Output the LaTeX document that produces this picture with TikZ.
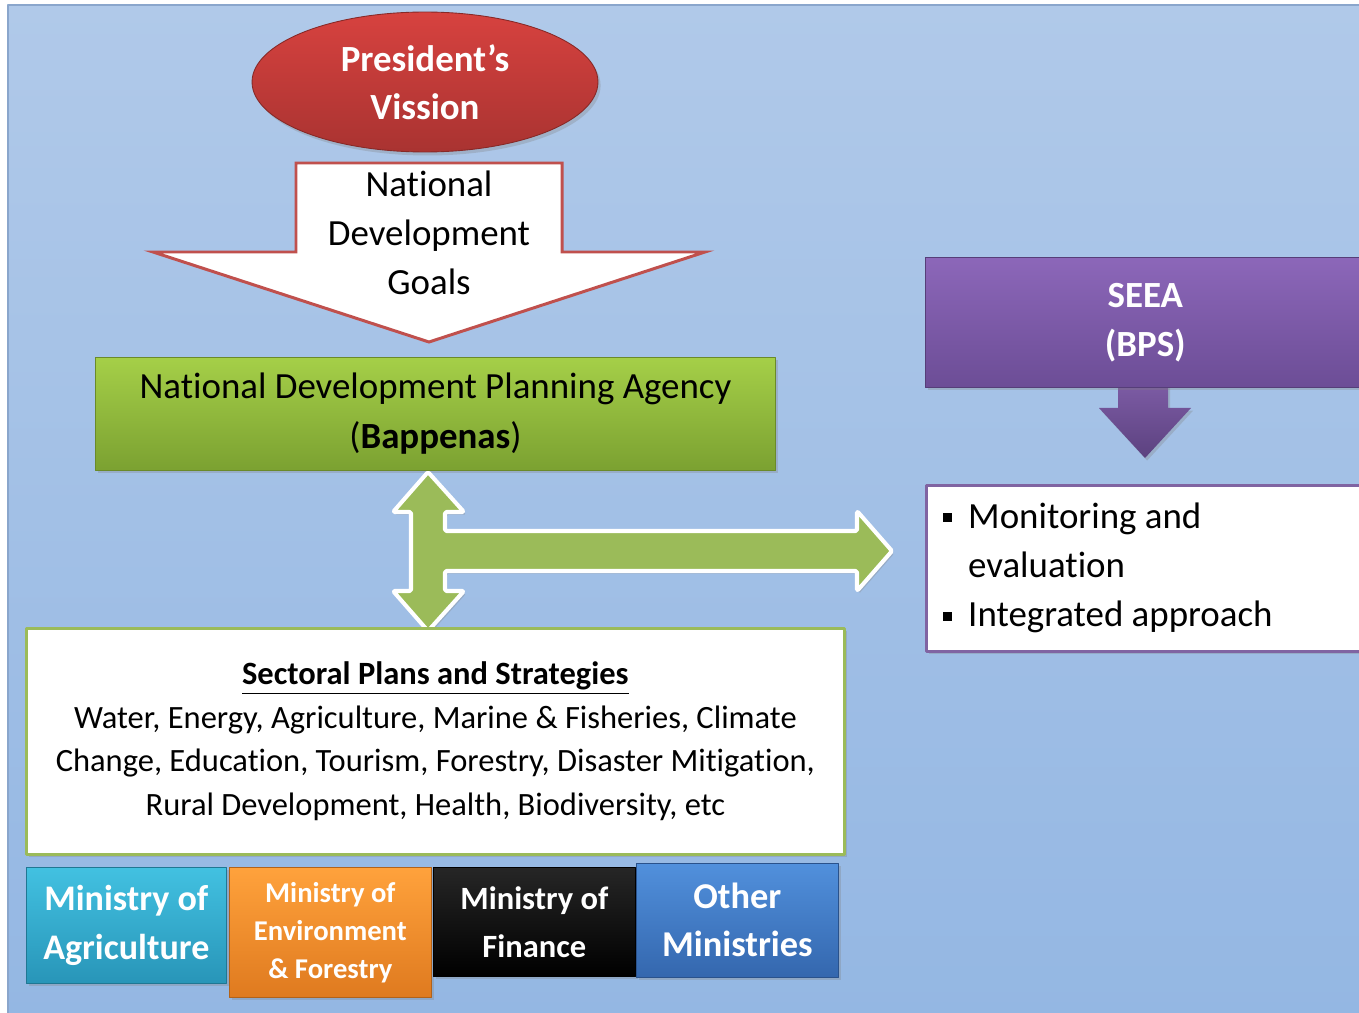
\documentclass[tikz,border=0pt]{standalone}
\usepackage{fontspec}
\setmainfont{Carlito}[Ligatures={NoCommon}]
\usepackage{tikz}
\usetikzlibrary{shapes.geometric, shadows, calc}
\definecolor{bgTop}{HTML}{B0C9E9}
\definecolor{bgBot}{HTML}{94B7E3}
\definecolor{bgEdge}{HTML}{8AA6CC}
\definecolor{visRed}{HTML}{D7423F}
\definecolor{visRedDk}{HTML}{A93331}
\definecolor{goalRed}{HTML}{C0504D}
\definecolor{bapGreen}{HTML}{A5CF48}
\definecolor{bapGreenDk}{HTML}{7BA131}
\definecolor{bapEdge}{HTML}{6A8A2A}
\definecolor{linkGreen}{HTML}{9BBB59}
\definecolor{seeaPurple}{HTML}{8C67B9}
\definecolor{seeaPurpleDk}{HTML}{6C4D96}
\definecolor{monPurple}{HTML}{8064A2}
\definecolor{agriCyan}{HTML}{42C1E1}
\definecolor{agriCyanDk}{HTML}{2895B8}
\definecolor{envOrange}{HTML}{FFA23C}
\definecolor{envOrangeDk}{HTML}{DF7A1F}
\definecolor{finBlack}{HTML}{262626}
\definecolor{othBlue}{HTML}{5190DC}
\definecolor{othBlueDk}{HTML}{3467AE}
\newcommand{\sqbul}{\makebox[0.5cm][l]{\rule[0.12cm]{0.18cm}{0.18cm}}}
\tikzset{
  plate/.style={rectangle, inner sep=0pt, align=center, anchor=north west,
    drop shadow={opacity=0.3, shadow xshift=1.5pt, shadow yshift=-1.5pt}},
  whitebold/.style 2 args={text=white, font=\bfseries\fontsize{#1}{#2}\selectfont},
  plaintext/.style={text=black, font=\fontsize{21}{28}\selectfont}
}

\begin{document}
\begin{tikzpicture}[x=0.02cm, y=-0.02cm, line join=round]
  \useasboundingbox (0,0) rectangle (1359,1013);
  \fill[white] (0,0) rectangle (1359,1013);
  \shade[top color=bgTop, bottom color=bgBot, draw=bgEdge, line width=0.6pt] (8,5) rectangle (1370,1020);

  % vision on top
  \node[ellipse, minimum width=6.92cm, minimum height=2.8cm, inner sep=0pt,
        top color=visRed, bottom color=visRedDk, draw=visRedDk!80!black, line width=0.5pt,
        drop shadow={opacity=0.3, shadow xshift=1.5pt, shadow yshift=-2pt},
        whitebold={21}{27.5}, align=center] (vision) at (425,82) {President’s\\Vission};

  % goals arrow
  \draw[goalRed, fill=white, line width=1.7pt, line join=miter]
    (296,163) -- (562,163) -- (562,252) -- (705,252) -- (429,342)
    -- (153,252) -- (296,252) -- cycle;
  \node[plaintext, align=center] (goals) at (429,233) {National\\Development\\Goals};

  % planning agency
  \node[plate, minimum width=13.6cm, minimum height=2.26cm,
        top color=bapGreen, bottom color=bapGreenDk, draw=bapEdge, line width=0.6pt,
        font=\fontsize{21}{28.5}\selectfont] (bappenas) at (95,357)
        {National Development Planning Agency\\(\textbf{Bappenas})};

  % link arrow between agency, plans and monitoring
  \coordinate (upTip) at (428,472);
  \coordinate (downTip) at (428,631);
  \coordinate (rightTip) at (892,551);
  \draw[fill=linkGreen, draw=white, line width=2.3pt, rounded corners=0.8pt,
        drop shadow={opacity=0.3, shadow xshift=1.2pt, shadow yshift=-1.5pt}]
    (upTip) -- (464,512) -- (445,512) -- (445,531) -- (857,531) -- (857,511)
    -- (rightTip) -- (857,591) -- (857,571) -- (445,571) -- (445,591)
    -- (464,591) -- (downTip) -- (393,591) -- (411,591) -- (411,512)
    -- (393,512) -- cycle;

  % sectoral plans
  \node[plate, minimum width=16.36cm, minimum height=4.52cm, fill=white,
        draw=linkGreen, line width=1.6pt, drop shadow={opacity=0},
        font=\fontsize{18.5}{24.75}\selectfont] (sectoral) at (25,627)
    {\textbf{\underline{Sectoral Plans and Strategies}}\\
     Water, Energy, Agriculture, Marine \& Fisheries, Climate\\
     Change, Education, Tourism, Forestry, Disaster Mitigation,\\
     Rural Development,\ Health, Biodiversity, etc};

  % ministries
  \node[plate, minimum width=4.0cm, minimum height=2.32cm,
        top color=agriCyan, bottom color=agriCyanDk, draw=agriCyanDk!80!black, line width=0.4pt,
        whitebold={20.5}{28}] (agri) at (26,867) {Ministry of\\Agriculture};
  \node[plate, minimum width=4.04cm, minimum height=2.6cm,
        top color=envOrange, bottom color=envOrangeDk, draw=envOrangeDk!80!black, line width=0.4pt,
        whitebold={16.3}{21.6}] (env) at (229,867)
        {Ministry of\\Environment\\\& Forestry};
  \node[plate, minimum width=4.04cm, minimum height=2.18cm,
        top color=finBlack, bottom color=black, draw=black, line width=0.4pt,
        whitebold={18.5}{27.3}] (fin) at (433,867)
        {Ministry of\\Finance};
  \node[plate, minimum width=4.04cm, minimum height=2.28cm,
        top color=othBlue, bottom color=othBlueDk, draw=othBlueDk!80!black, line width=0.4pt,
        whitebold={20.7}{27.3}] (other) at (636,863)
        {Other\\Ministries};

  % SEEA side
  \shade[top color=seeaPurple!90!black, bottom color=seeaPurpleDk!85!black,
         drop shadow={opacity=0.3, shadow xshift=1.2pt, shadow yshift=-1.5pt}]
    (1118,380) -- (1168,380) -- (1168,408) -- (1191,408) -- (1145,458)
    -- (1099,408) -- (1118,408) -- cycle;
  \node[plate, minimum width=8.8cm, minimum height=2.6cm,
        top color=seeaPurple, bottom color=seeaPurpleDk, draw=seeaPurpleDk!80!black, line width=0.4pt,
        whitebold={21}{28}] (seea) at (925,257)
        {SEEA\\(BPS)};
  \node[plate, minimum width=8.8cm, minimum height=3.32cm, fill=white,
        draw=monPurple, line width=1.6pt, drop shadow={opacity=0}] (monitor) at (925,484) {};
  \node[plaintext, align=left, anchor=west] (montext) at (937,568)
    {\sqbul Monitoring and\\\hspace*{0.5cm}evaluation\\\sqbul Integrated approach};
\end{tikzpicture}
\end{document}
